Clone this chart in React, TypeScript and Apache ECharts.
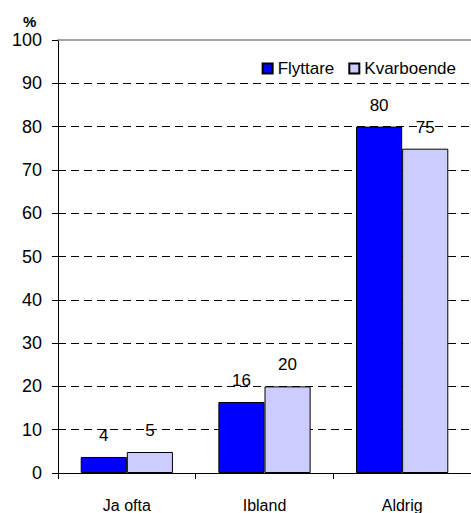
import React, { useEffect, useRef } from "react";
import * as echarts from "echarts";

const categories = ["Ja ofta", "Ibland", "Aldrig"];
const flyttare = [3.7, 16.4, 80];
const kvarboende = [4.85, 20, 74.9];
const seriesNames = ["Flyttare", "Kvarboende"];

export default function App() {
  const ref = useRef<HTMLDivElement>(null);
  useEffect(() => {
    if (!ref.current) return;
    const chart = echarts.init(ref.current, null, { renderer: "svg" });
    const font = "Arial, 'Liberation Sans', sans-serif";
    const label = {
      show: true,
      position: "top",
      distance: 13,
      color: "#000",
      fontSize: 17,
      fontFamily: font,
      formatter: (p: any) => String(Math.round(p.value)),
    };
    chart.setOption({
      animation: false,
      backgroundColor: "#fff",
      grid: { left: 58, right: 0, top: 40, bottom: 40 },
      legend: {
        data: seriesNames,
        right: 10,
        top: 55,
        itemWidth: 10,
        itemHeight: 10,
        itemGap: 14,
        icon: "rect",
        textStyle: { color: "#000", fontSize: 17, fontFamily: font },
      },
      graphic: [
        {
          type: "text",
          left: 23,
          top: 14,
          style: { text: "%", fontSize: 15, fontWeight: "bold", fill: "#000", fontFamily: font },
        },
      ],
      xAxis: [
        {
          type: "category",
          data: categories,
          axisLine: { lineStyle: { color: "#000", width: 1 } },
          axisTick: { show: true, length: 6, lineStyle: { color: "#000" } },
          axisLabel: { color: "#000", fontSize: 16, fontFamily: font, margin: 24 },
        },
        {
          type: "category",
          data: categories,
          position: "top",
          axisLine: { lineStyle: { color: "#888", width: 1.5 } },
          axisTick: { show: false },
          axisLabel: { show: false },
        },
      ],
      yAxis: {
        type: "value",
        min: 0,
        max: 100,
        interval: 10,
        axisLine: { show: true, lineStyle: { color: "#000", width: 1 } },
        axisTick: { show: true, length: 6, lineStyle: { color: "#000" } },
        axisLabel: { color: "#000", fontSize: 18, fontFamily: font, margin: 16 },
        splitLine: {
          show: true,
          showMinLine: false,
          showMaxLine: false,
          lineStyle: { color: "#000", type: [8, 5], width: 1 },
        },
      },
      series: [
        {
          name: seriesNames[0],
          type: "bar",
          data: flyttare,
          barGap: "0%",
          barCategoryGap: "33%",
          itemStyle: { color: "#0000FF", borderColor: "#000", borderWidth: 1 },
          label,
        },
        {
          name: seriesNames[1],
          type: "bar",
          data: kvarboende,
          itemStyle: { color: "#CCCCFF", borderColor: "#000", borderWidth: 1 },
          label,
        },
      ],
    });
    return () => chart.dispose();
  }, []);
  return (
    <div
      ref={ref}
      style={{ position: "absolute", left: 0, top: 0, width: 471, height: 513 }}
    />
  );
}
